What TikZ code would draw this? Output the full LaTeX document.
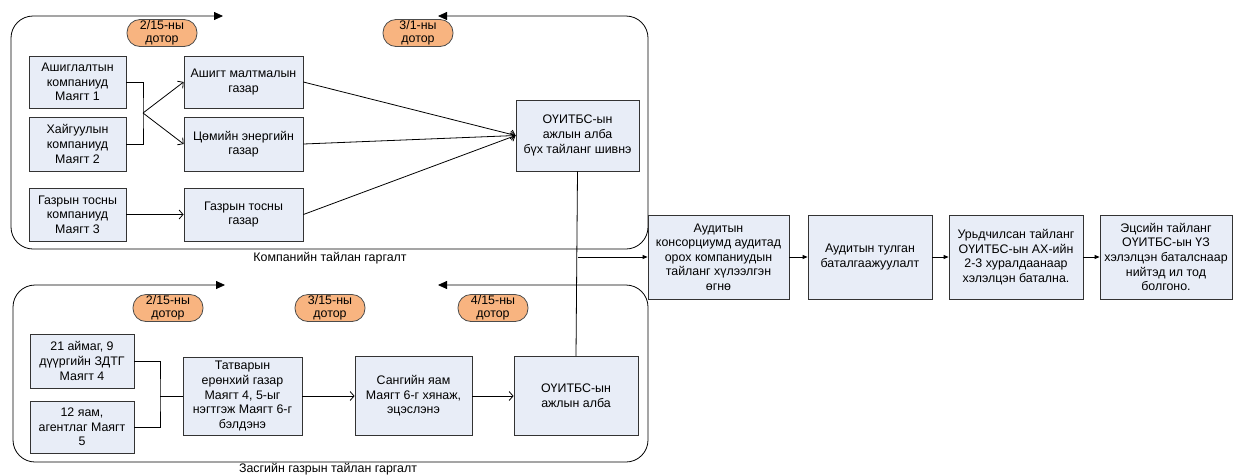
\documentclass[tikz,border=0pt]{standalone}
\usepackage{fontspec}
\setmainfont{Liberation Sans}
\usetikzlibrary{arrows.meta}

\definecolor{boxfill}{RGB}{232,237,247}
\definecolor{pillfill}{RGB}{248,180,128}

\begin{document}
\begin{tikzpicture}[x=1pt,y=1pt,line width=0.8pt,>={Straight Barb[length=4pt,width=9pt]},
    font=\fontsize{12.4}{14.6}\selectfont,
    blk/.style={draw=black!80,fill=boxfill,align=center,inner sep=1pt,minimum width=#1},
    blk/.default=119pt,
    pill/.style={draw=black!70,fill=pillfill,rounded corners=13pt,align=center,
      minimum width=70pt,minimum height=27pt,inner sep=0pt,font=\fontsize{12.4}{13.5}\selectfont},
    frame/.style={draw=black,rounded corners=22pt,{Triangle[length=9pt,width=8pt]}-{Triangle[length=9pt,width=8pt]}},
    flow/.style={-{Triangle[length=5pt,width=4pt]}}]
    \useasboundingbox (0,0) rectangle (1235,-475);
    % company reports frame
    \draw[frame] (223,-16) -- (11,-16) -- (11,-249) -- (648,-249) -- (648,-16) -- (438,-16);
    \node (lt) at (330,-258) {Компанийн тайлан гаргалт};
    \node[pill] (p1) at (162,-33) {2/15-ны\\дотор};
    \node[pill] (p2) at (418,-33) {3/1-ны\\дотор};
    % government reports frame
    \draw[frame] (225,-285) -- (13,-285) -- (13,-462) -- (648,-462) -- (648,-285) -- (438,-285);
    \node (lb) at (328,-469) {Засгийн газрын тайлан гаргалт};
    \node[pill] (p3) at (168,-308) {2/15-ны\\дотор};
    \node[pill] (p4) at (330,-308) {3/15-ны\\дотор};
    \node[pill] (p5) at (493,-308) {4/15-ны\\дотор};
    % companies
    \node[blk=97pt,minimum height=52pt] (a1) at (77.5,-82) {Ашиглалтын\\компаниуд\\Маягт 1};
    \node[blk=97pt,minimum height=54pt] (a2) [below of=a1, node distance=62pt] {Хайгуулын\\компаниуд\\Маягт 2};
    \node[blk=97pt,minimum height=53pt] (a3) [below of=a2, node distance=70.5pt] {Газрын тосны\\компаниуд\\Маягт 3};
    % agencies
    \node[blk,minimum height=52pt] (b1) [right of=a1, node distance=166pt] {Ашигт малтмалын\\газар};
    \node[blk,minimum height=54pt] (b2) [right of=a2, node distance=166pt] {Цөмийн энергийн\\газар};
    \node[blk,minimum height=53pt] (b3) [right of=a3, node distance=166pt] {Газрын тосны\\газар};
    \node[blk=123pt,minimum height=71pt] (c) at (577.5,-135.5) {ОҮИТБС-ын\\ажлын алба\\бүх тайланг шивнэ};
    % government side
    \node[blk=104pt,minimum height=54pt] (d1) at (82,-361) {21 аймаг, 9\\дүүргийн ЗДТГ\\Маягт 4};
    \node[blk=104pt,minimum height=52pt] (d2) [below of=d1, node distance=66pt] {12 яам,\\агентлаг Маягт\\5};
    \node[blk,minimum height=78pt] (e) at (242.5,-396) {Татварын\\ерөнхий газар\\Маягт 4, 5-ыг\\нэгтгэж Маягт 6-г\\бэлдэнэ};
    \node[blk=117pt,minimum height=79pt] (f) [right of=e, node distance=171pt] {Сангийн яам\\Маягт 6-г хянаж,\\эцэслэнэ};
    \node[blk=124pt,minimum height=79pt] (g) [right of=f, node distance=162.5pt] {ОҮИТБС-ын\\ажлын алба};
    % audit chain
    \node[blk=141pt,minimum height=84pt] (h) at (718.5,-257) {Аудитын\\консорциумд аудитад\\орох компаниудын\\тайланг хүлээлгэн\\өгнө};
    \node[blk=124pt,minimum height=84pt] (i) [right of=h, node distance=151.5pt] {Аудитын тулган\\баталгаажуулалт};
    \node[blk=134pt,minimum height=84pt] (j) [right of=i, node distance=146pt] {Урьдчилсан тайланг\\ОҮИТБС-ын АХ-ийн\\2-3 хуралдаанаар\\хэлэлцэн батална.};
    \node[blk=132pt,minimum height=84pt] (k) [right of=j, node distance=150pt] {Эцсийн тайланг\\ОҮИТБС-ын ҮЗ\\хэлэлцэн баталснаар\\нийтэд ил тод\\болгоно.};
    % company connectors
    \coordinate (ja) at (143,-113);
    \draw (a1.east) -| (ja) |- (a2.east);
    \path[->] (ja) edge node {} (b1.west);
    \path[->] (ja) edge node {} (b2.west);
    \path[->] (a3) edge node {} (b3);
    \path[->] (b1.east) edge node {} (c.west);
    \path[->] (b2.east) edge node {} (c.west);
    \path[->] (b3.east) edge node {} (c.west);
    % government connectors
    \coordinate (jd) at (160,-396);
    \draw (d1.east) -| (jd) |- (d2.east);
    \draw (jd) -- (e.west);
    \path[->] (e) edge node {} (f);
    \path[->] (f) edge node {} (g);
    % join to audit
    \coordinate (jc) at (c.south |- h.west);
    \draw (c.south) -- (g.north);
    \path[flow] (jc) edge node {} (h.west);
    \path[flow] (h) edge node {} (i);
    \path[flow] (i) edge node {} (j);
    \path[flow] (j) edge node {} (k);
\end{tikzpicture}
\end{document}
